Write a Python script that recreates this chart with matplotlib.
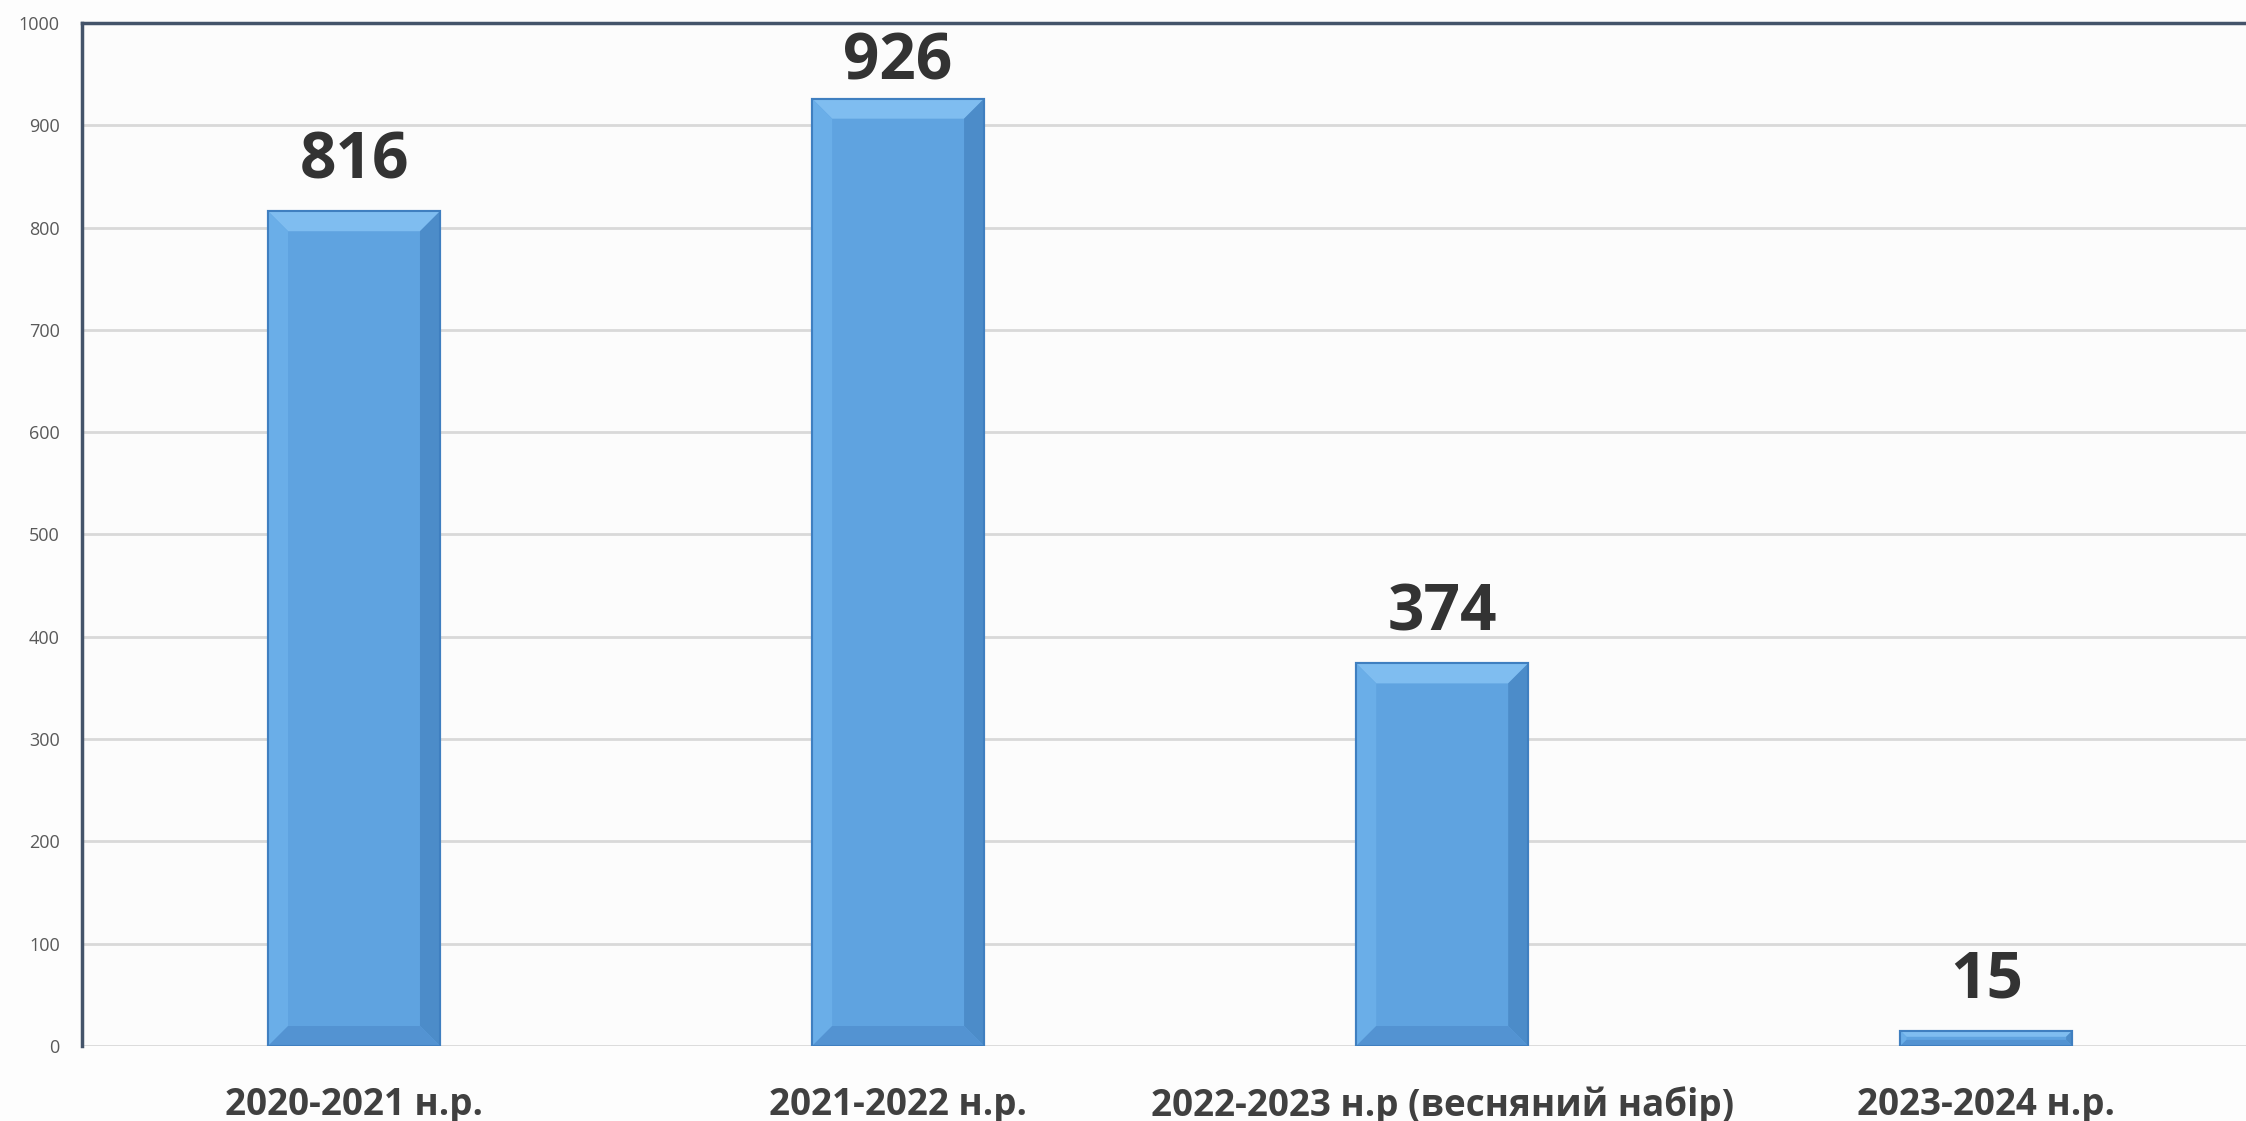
import matplotlib
matplotlib.use("Agg")
import matplotlib.pyplot as plt
from matplotlib.patches import Polygon

categories = ["2020-2021 н.р.", "2021-2022 н.р.", "2022-2023 н.р (весняний набір)", "2023-2024 н.р."]
values = [816, 926, 374, 15]
y_ticks = [0, 100, 200, 300, 400, 500, 600, 700, 800, 900, 1000]

plt.rcParams['font.family'] = ['Open Sans', 'DejaVu Sans']

fig = plt.figure(figsize=(22.46, 11.21), dpi=100, facecolor='#fdfdfd')
ax = fig.add_axes([0.0365, 0.0669, 0.969, 0.9126])
ax.set_facecolor('#fcfcfc')

x = list(range(len(categories)))
bars = ax.bar(x, values, width=0.316, color='#5fa3e0', edgecolor='#3f7fc0', linewidth=1.5, zorder=3)

ax.set_xlim(-0.5, len(categories) - 0.5)
ax.set_ylim(0, 1000)
ax.set_yticks(y_ticks)
ax.set_yticklabels([str(t) for t in y_ticks], fontsize=13, color='#595959')
ax.set_xticks(x)
ax.set_xticklabels(categories, fontsize=26.5, fontweight='bold', color='#404040')
ax.tick_params(axis='x', length=0, pad=29)
ax.tick_params(axis='y', length=0, pad=16)
ax.yaxis.grid(True, color='#d9d9d9', linewidth=2, zorder=0)
ax.set_axisbelow(True)

for s in ['right', 'bottom']:
    ax.spines[s].set_visible(False)
for s in ['top', 'left']:
    ax.spines[s].set_color('#44546a')
    ax.spines[s].set_linewidth(2.5)

# bevel effect computed from bar geometry
fig.canvas.draw()
inv = ax.transData.inverted()
p0 = inv.transform((0, 0))
p1 = inv.transform((20, 20))
bx, by = p1[0] - p0[0], p1[1] - p0[1]
labels = []
for b in bars:
    x0, w, h = b.get_x(), b.get_width(), b.get_height()
    x1 = x0 + w
    dy = min(by, h / 2.5)
    dx = min(bx, dy * bx / by)
    top = Polygon([(x0, h), (x1, h), (x1 - dx, h - dy), (x0 + dx, h - dy)], closed=True,
                  facecolor='#7fbdf0', edgecolor='none', zorder=4)
    right = Polygon([(x1, h), (x1, 0), (x1 - dx, dy), (x1 - dx, h - dy)], closed=True,
                    facecolor='#4c8cc9', edgecolor='none', zorder=4)
    left = Polygon([(x0, h), (x0, 0), (x0 + dx, dy), (x0 + dx, h - dy)], closed=True,
                   facecolor='#6aaee8', edgecolor='none', zorder=4)
    bottom = Polygon([(x0, 0), (x1, 0), (x1 - dx, dy), (x0 + dx, dy)], closed=True,
                     facecolor='#5393d2', edgecolor='none', zorder=4)
    for p in (top, right, left, bottom):
        ax.add_patch(p)
    ax.add_patch(Polygon([(x0, 0), (x0, h), (x1, h), (x1, 0)], closed=True,
                         facecolor='none', edgecolor='#3f7fc0', linewidth=1.5, zorder=5))
    t = ax.annotate(str(int(h)), (x0 + w / 2, h), xytext=(0, 12), textcoords='offset points',
                    ha='center', va='bottom', fontsize=46, fontweight='bold', color='#333333', zorder=6)
    labels.append(t)

# keep labels inside the chart area (like the original), shifting down if needed
fig.canvas.draw()
renderer = fig.canvas.get_renderer()
limit = fig.bbox.height - 30
for t in labels:
    bb = t.get_window_extent(renderer)
    if bb.y1 > limit:
        shift_pts = (bb.y1 - limit) * 72.0 / fig.dpi
        t.set_position((0, 12 - shift_pts))

fig.savefig('out.png', dpi=100, facecolor=fig.get_facecolor())
